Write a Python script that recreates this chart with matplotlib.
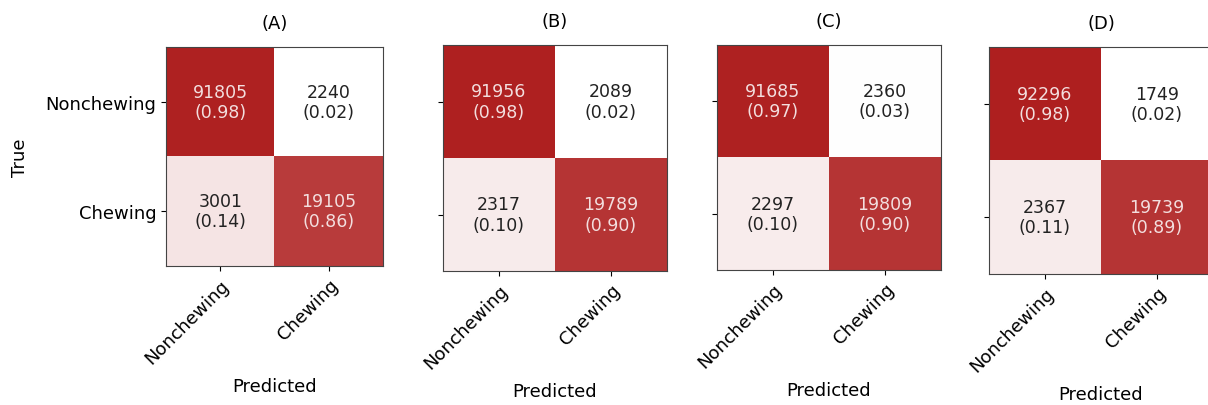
import numpy as np
import matplotlib.pyplot as plt
from matplotlib.colors import LinearSegmentedColormap

# confusion matrices, rows = true, cols = predicted
panels = ["(A)", "(B)", "(C)", "(D)"]
counts_a = [[91805, 2240], [3001, 19105]]
counts_b = [[91956, 2089], [2317, 19789]]
counts_c = [[91685, 2360], [2297, 19809]]
counts_d = [[92296, 1749], [2367, 19739]]
classes = ["Nonchewing", "Chewing"]

# axes boxes in pixels: left, right, top, bottom (composited panels differ a bit)
boxes = [(166, 383, 48, 267), (443, 667, 46, 272), (717, 941, 46, 271), (989, 1213, 48, 275)]

W, H = 1208, 406
fig = plt.figure(figsize=(W / 100, H / 100), dpi=100)
cmap = LinearSegmentedColormap.from_list("wr", ["#ffffff", "#ad1c1c"])

for i, (name, cm) in enumerate(zip(panels, [counts_a, counts_b, counts_c, counts_d])):
    l, r, t, b = boxes[i]
    ax = fig.add_axes([l / W, 1 - b / H, (r - l) / W, (b - t) / H])
    cm = np.array(cm)
    norm = cm / cm.sum(axis=1, keepdims=True)
    ax.imshow(norm, cmap=cmap, vmin=0.02, vmax=1.0, aspect="auto")
    for y in range(2):
        for x in range(2):
            col = "#f3dede" if norm[y, x] > 0.5 else "#222222"
            ax.text(x, y, f"{cm[y, x]}\n({norm[y, x]:.2f})", ha="center", va="center",
                    color=col, fontsize=12.5, linespacing=1.15)
    ax.set_xticks([0, 1])
    ax.set_yticks([0, 1])
    ax.set_xticklabels(classes, rotation=45, ha="right", rotation_mode="anchor", fontsize=13)
    if i == 0:
        ax.set_yticklabels(classes, fontsize=13)
        ax.set_ylabel("True", fontsize=13, labelpad=12)
    else:
        ax.set_yticklabels([])
    ax.set_xlabel("Predicted", fontsize=13, labelpad=7)
    ax.set_title(name, fontsize=13, pad=14)
    for s in ax.spines.values():
        s.set_color("#444444")

fig.savefig("out.png", dpi=100, facecolor="white")
